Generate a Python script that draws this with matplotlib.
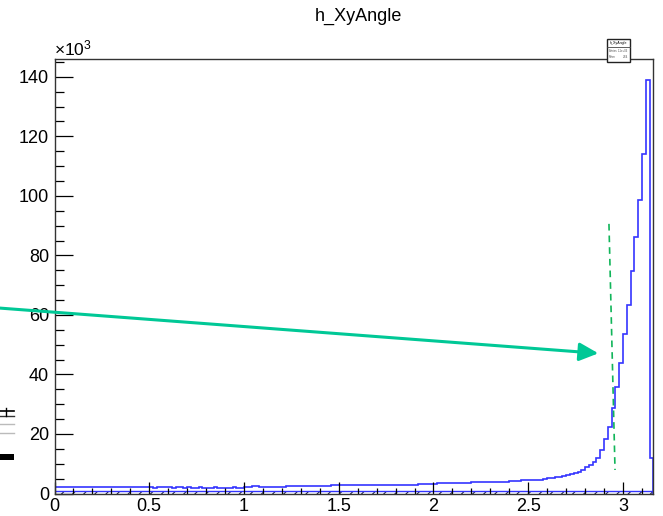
import numpy as np
import matplotlib
matplotlib.use("Agg")
import matplotlib.pyplot as plt
from matplotlib.patches import Rectangle
from matplotlib.lines import Line2D
from matplotlib.ticker import MultipleLocator

plt.rcParams['font.family'] = ['Liberation Sans', 'DejaVu Sans']
plt.rcParams['mathtext.fontset'] = 'custom'
plt.rcParams['mathtext.rm'] = 'Liberation Sans'
plt.rcParams['mathtext.it'] = 'Liberation Sans:italic'
plt.rcParams['hatch.linewidth'] = 0.8

# ---- data ----------------------------------------------------------------
title = "h_XyAngle"
x_min, x_max = 0.0, 3.16          # 158 bins of width 0.02

# main histogram, entries per bin in units of 10^3
counts_k = [
    2.3, 2.3, 2.2, 2.3, 2.2, 2.2, 2.2, 2.3, 2.2, 2.2,
    2.2, 2.1, 2.2, 2.2, 2.1, 2.2, 2.1, 2.1, 2.2, 2.1,
    2.1, 2.1, 2.2, 2.1, 2.1, 2.1, 2.0, 2.1, 2.1, 2.1,
    2.1, 2.0, 2.1, 2.1, 2.0, 2.1, 2.0, 2.0, 2.1, 2.0,
    2.0, 2.0, 2.1, 2.0, 2.0, 2.0, 2.0, 2.1, 2.0, 2.0,
    2.1, 2.2, 2.5, 2.4, 2.2, 2.2, 2.2, 2.2, 2.2, 2.3,
    2.3, 2.5, 2.6, 2.5, 2.5, 2.4, 2.4, 2.4, 2.4, 2.5,
    2.5, 2.6, 2.6, 2.7, 2.7, 2.7, 2.8, 2.9, 2.8, 2.8,
    2.8, 2.8, 2.7, 2.8, 2.8, 2.9, 2.9, 2.9, 2.9, 2.9,
    2.9, 2.9, 3.0, 3.0, 3.0, 3.0, 3.3, 3.3, 3.3, 3.3,
    3.3, 3.4, 3.4, 3.4, 3.5, 3.5, 3.5, 3.6, 3.6, 3.6,
    3.7, 3.7, 3.7, 3.8, 3.8, 3.9, 3.9, 3.9, 4.0, 4.0,
    4.1, 4.2, 4.3, 4.4, 4.4, 4.5, 4.5, 4.6, 4.7,
    5.0, 5.1, 5.2,
    5.5, 5.7,
    6.0, 6.2, 6.4,
    6.9, 7.1,
    7.9, 8.8, 9.6, 10.5, 11.8, 14.6, 18.2, 22.3, 28.6, 35.7,
    44.0, 53.6, 63.4, 74.9, 86.3, 98.7, 114.0, 139.0, 12.0,
]

# second (hatched) histogram, units of 10^3
bg_level_k = 0.85
bg_counts_k = [bg_level_k] * len(counts_k)

x_ticks = [0, 0.5, 1, 1.5, 2, 2.5, 3]
x_tick_labels = ["0", "0.5", "1", "1.5", "2", "2.5", "3"]
y_ticks = [0, 20, 40, 60, 80, 100, 120, 140]
y_tick_labels = ["0", "20", "40", "60", "80", "100", "120", "140"]
y_max = 146.0

# annotation geometry (data units)
arrow_tail = (-0.288, 62.3)
arrow_head = (2.870, 47.1)
cut_line_x = [2.926, 2.958]
cut_line_y = [90.6, 7.9]

# ---- figure ---------------------------------------------------------------
W, H = 663, 516
fig = plt.figure(figsize=(W / 100, H / 100), dpi=100)
ax = fig.add_axes([54.5 / W, 1 - 493.5 / H, (653.3 - 54.5) / W, (493.5 - 59) / H])

edges = np.linspace(x_min, x_max, len(counts_k) + 1)

ax.stairs(bg_counts_k, edges, fill=True, facecolor='none', edgecolor='#222244',
          hatch='///', linewidth=0)
ax.stairs(bg_counts_k, edges, color='#3333ff', linewidth=1.0, baseline=None)
ax.stairs(counts_k, edges, color='#3535ff', linewidth=1.2)

ax.set_xlim(x_min, x_max)
ax.set_ylim(0, y_max)

ax.set_xticks(x_ticks)
ax.set_xticklabels(x_tick_labels)
ax.set_yticks(y_ticks)
ax.set_yticklabels(y_tick_labels)
ax.xaxis.set_minor_locator(MultipleLocator(0.1))
ax.yaxis.set_minor_locator(MultipleLocator(5))

ax.tick_params(axis='both', which='both', direction='in', top=False, right=False,
               colors='black', width=0.9)
ax.tick_params(axis='y', which='major', length=13, pad=4, labelsize=13)
ax.tick_params(axis='y', which='minor', length=6.5)
ax.tick_params(axis='x', which='major', length=8.6, pad=3.5, labelsize=13)
ax.tick_params(axis='x', which='minor', length=4.3)
for s in ax.spines.values():
    s.set_linewidth(1.0)
    s.set_color('#333333')

# exponent label on the y axis
fig.text(54 / W, 1 - 48 / H, r'$\times$10$^{3}$', fontsize=12.5, ha='left', va='center')

# title
fig.text(358 / W, 1 - 16 / H, title, fontsize=13, ha='center', va='center')

# arrow and dashed cut line
ax.annotate('', xy=arrow_head, xytext=arrow_tail, annotation_clip=False,
            arrowprops=dict(arrowstyle='-|>,head_length=1.15,head_width=0.55',
                            color='#00c896', lw=2.2, shrinkA=0, shrinkB=0))
ax.plot(cut_line_x, cut_line_y, color='#11b55a', lw=1.2, ls=(0, (4, 3)), clip_on=False)

# small stats box on the top-right frame edge
def px_rect(x0, y0, x1, y1, **kw):
    return Rectangle((x0 / W, 1 - y1 / H), (x1 - x0) / W, (y1 - y0) / H,
                     transform=fig.transFigure, **kw)

fig.patches.append(px_rect(607, 39, 630, 62, facecolor='white', edgecolor='#222222',
                           linewidth=1.0, zorder=5))
fig.lines.append(Line2D([607 / W, 630 / W], [1 - 47 / H, 1 - 47 / H],
                        transform=fig.transFigure, color='#444444', lw=0.6, zorder=6))
fig.text(618.5 / W, 1 - 43 / H, title, fontsize=2.6, ha='center', va='center', zorder=7)
fig.text(609 / W, 1 - 51 / H, 'Entries', fontsize=2.0, ha='left', va='center', color='#555555', zorder=7)
fig.text(628 / W, 1 - 51 / H, '1.1e+06', fontsize=2.0, ha='right', va='center', color='#555555', zorder=7)
fig.text(609 / W, 1 - 56.5 / H, 'Mean', fontsize=2.0, ha='left', va='center', color='#555555', zorder=7)
fig.text(628 / W, 1 - 56.5 / H, '2.64', fontsize=2.0, ha='right', va='center', color='#555555', zorder=7)

# clipped fragment at the left edge
fig.patches.append(px_rect(0, 454, 14, 460, facecolor='black', edgecolor='none'))
fig.lines.append(Line2D([0, 14 / W], [1 - 411 / H, 1 - 411 / H], transform=fig.transFigure,
                        color='black', lw=1.2))
fig.lines.append(Line2D([0, 14 / W], [1 - 416 / H, 1 - 416 / H], transform=fig.transFigure,
                        color='#333333', lw=1.0))
fig.lines.append(Line2D([6 / W, 6 / W], [1 - 408 / H, 1 - 416 / H], transform=fig.transFigure,
                        color='black', lw=1.0))
fig.lines.append(Line2D([0, 14 / W], [1 - 424 / H, 1 - 424 / H], transform=fig.transFigure,
                        color='#bbbbbb', lw=1.0))
fig.lines.append(Line2D([0, 14 / W], [1 - 433 / H, 1 - 433 / H], transform=fig.transFigure,
                        color='#bbbbbb', lw=1.0))

fig.savefig("out.png", dpi=100)
